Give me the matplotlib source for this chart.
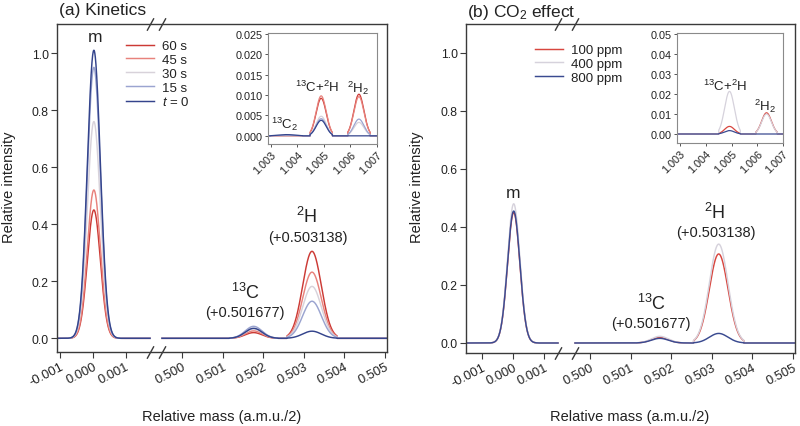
import numpy as np
import matplotlib
matplotlib.use("Agg")
import matplotlib.pyplot as plt
from matplotlib.path import Path
from matplotlib.ticker import FixedLocator, FixedFormatter

plt.rcParams['font.family'] = ['Liberation Sans', 'DejaVu Sans']
plt.rcParams['mathtext.fontset'] = 'custom'
plt.rcParams['mathtext.rm'] = 'Liberation Sans'
plt.rcParams['mathtext.it'] = 'Liberation Sans:italic'
plt.rcParams['mathtext.bf'] = 'Liberation Sans:bold'

# ---------------- data ----------------
# panel (a) kinetics
a_labels = ['60 s', '45 s', '30 s', '15 s', r'$t$ = 0']
a_colors = ['#cc3a35', '#e8827c', '#d8d2da', '#9ba4d0', '#34448c']
a_m = [0.45, 0.52, 0.76, 0.95, 1.01]
a_13C = [0.020, 0.026, 0.033, 0.042, 0.035]
a_2H = [0.305, 0.232, 0.182, 0.130, 0.025]
a_13C2 = [0.0, 0.0, 0.0, 0.0002, 0.0003]
a_13C2H = [0.0092, 0.0098, 0.0048, 0.0042, 0.0038]
a_2H2 = [0.0102, 0.0096, 0.0033, 0.0041, 0.0]

# panel (b) CO2 effect
b_labels = ['100 ppm', '400 ppm', '800 ppm']
b_colors = ['#d8463f', '#d6d2dc', '#3a4a90']
b_m = [0.45, 0.48, 0.455]
b_13C = [0.019, 0.023, 0.016]
b_2H = [0.307, 0.341, 0.033]
b_13C2H = [0.0038, 0.0213, 0.0017]
b_2H2 = [0.0106, 0.0100, 0.0]

# peak positions (relative mass) and widths: (sigma, half window)
a_pos = {'m': 0.00003, '13C': 0.50176, '2H': 0.50320,
         '13C2': 1.0036, '13C2H': 1.00490, '2H2': 1.00632}
b_pos = {'m': 0.00002, '13C': 0.50172, '2H': 0.50317,
         '13C2H': 1.00492, '2H2': 1.00636}
widths = {'m': (0.00020, 0.00080), '13C': (0.00021, 0.00060),
          '2H': (0.00023, 0.00062), '13C2': (0.00030, 0.00060),
          '13C2H': (0.00019, 0.00042), '2H2': (0.00019, 0.00042)}

x_ticks = [-0.001, 0.000, 0.001, 0.500, 0.501, 0.502, 0.503, 0.504, 0.505]
x_ticklabels = ['-0.001', '0.000', '0.001', '0.500', '0.501', '0.502',
                '0.503', '0.504', '0.505']
y_ticks = [0.0, 0.2, 0.4, 0.6, 0.8, 1.0]
ins_x_ticks = [1.003, 1.004, 1.005, 1.006, 1.007]
a_ins_y_ticks = [0.000, 0.005, 0.010, 0.015, 0.020, 0.025]
b_ins_y_ticks = [0.00, 0.01, 0.02, 0.03, 0.04, 0.05]


def peak(x, center, height, key):
    s, w = widths[key]
    y = height * np.exp(-0.5 * ((x - center) / s) ** 2)
    return np.where(np.abs(x - center) <= w, y, 0.0)


def make_scale(L0, L1, R0, R1, wl, wg, wr):
    def fwd(x):
        x = np.asarray(x, float)
        a = (x - L0) * (wl / (L1 - L0))
        b = wl + (x - L1) * (wg / (R0 - L1))
        c = wl + wg + (x - R0) * (wr / (R1 - R0))
        return np.where(x <= L1, a, np.where(x >= R0, c, b))

    def inv(u):
        u = np.asarray(u, float)
        a = L0 + u * (L1 - L0) / wl
        b = L1 + (u - wl) * (R0 - L1) / wg
        c = R0 + (u - wl - wg) * (R1 - R0) / wr
        return np.where(u <= wl, a, np.where(u >= wl + wg, c, b))
    return fwd, inv


W, H = 800, 427
fig = plt.figure(figsize=(W / 100, H / 100), dpi=100)


def px_axes(l, t, r, b):
    return fig.add_axes([l / W, 1 - b / H, (r - l) / W, (b - t) / H])


def ftext(x, y, s, **kw):
    fig.text(x / W, 1 - y / H, s, ha='center', va='center', **kw)


FRAME = '#3a3a3a'
slash = Path([(-0.55, -1.0), (0.55, 1.0)], [Path.MOVETO, Path.LINETO])


def main_panel(box, lims, pix, ylim, series, pos, labels, colors, leg_xy):
    ax = px_axes(*box)
    L0, L1, R0, R1 = lims
    fwd, inv = make_scale(L0, L1, R0, R1, *pix)
    ax.set_xscale('function', functions=(fwd, inv))
    ax.set_xlim(L0, R1)
    ax.set_ylim(*ylim)
    xl = np.linspace(L0, L1, 1500)
    xr = np.linspace(R0, R1, 3000)
    m_v, c_v, h_v = series
    for i in range(len(labels)):
        yl = peak(xl, pos['m'], m_v[i], 'm')
        yr = peak(xr, pos['13C'], c_v[i], '13C') + peak(xr, pos['2H'], h_v[i], '2H')
        ax.plot(xl, yl, color=colors[i], lw=1.05, label=labels[i])
        ax.plot(xr, yr, color=colors[i], lw=1.05)
    for sp in ax.spines.values():
        sp.set_color(FRAME)
        sp.set_linewidth(1.0)
    ax.xaxis.set_major_locator(FixedLocator(x_ticks))
    ax.xaxis.set_major_formatter(FixedFormatter(x_ticklabels))
    ax.xaxis.set_minor_locator(FixedLocator([]))
    ax.set_yticks(y_ticks)
    ax.set_yticklabels(['%.1f' % v for v in y_ticks])
    ax.tick_params(axis='both', direction='out', length=4, width=0.8,
                   color=FRAME, labelsize=8.8, pad=2, labelcolor='#222')
    for lab in ax.get_xticklabels():
        lab.set_rotation(27)
        lab.set_ha('right')
        lab.set_rotation_mode('anchor')
        lab.set_fontsize(9.3)
    # break marks
    ax.plot([L1, R0], [1, 1], transform=ax.get_xaxis_transform(), ls='none',
            marker=slash, ms=9, mew=1.0, color=FRAME, clip_on=False)
    ax.plot([L1, R0], [0, 0], transform=ax.get_xaxis_transform(), ls='none',
            marker=slash, ms=9, mew=1.0, color=FRAME, clip_on=False)
    leg = ax.legend(loc='upper left', bbox_to_anchor=leg_xy, frameon=False,
                    fontsize=9.5, handlelength=2.1, handletextpad=0.6,
                    labelspacing=0.12, borderpad=0, borderaxespad=0)
    for t in leg.get_texts():
        t.set_color('#222')
    return ax


def inset(box, xlim, ylim, yt, yfmt, series, keys, pos, colors):
    ax = px_axes(*box)
    x = np.linspace(xlim[0], xlim[1], 4000)
    for i in range(len(colors)):
        y = np.zeros_like(x)
        for vals, k in zip(series, keys):
            y = y + peak(x, pos[k], vals[i], k)
        ax.plot(x, y, color=colors[i], lw=0.9)
    ax.set_xlim(*xlim)
    ax.set_ylim(*ylim)
    for sp in ax.spines.values():
        sp.set_color('#8a8a8a')
        sp.set_linewidth(0.8)
    ax.set_xticks(ins_x_ticks)
    ax.set_xticklabels(['%.3f' % v for v in ins_x_ticks])
    ax.set_yticks(yt)
    ax.set_yticklabels([yfmt % v for v in yt])
    ax.tick_params(axis='both', direction='out', length=2.5, width=0.7,
                   color='#555', labelsize=7.8, pad=1.5, labelcolor='#222')
    for lab in ax.get_xticklabels():
        lab.set_rotation(45)
        lab.set_ha('right')
        lab.set_rotation_mode('anchor')
    return ax


# ---------- panel (a) ----------
main_panel((57, 25, 387, 353), (-0.0011, 0.00175, 0.4995, 0.50505), (93, 12, 225),
           (-0.048, 1.102), (a_m, a_13C, a_2H), a_pos, a_labels, a_colors,
           ((126 - 57) / 330, (353 - 41) / 328))
inset((268, 34, 377, 145), (1.0029, 1.007), (-0.002, 0.0252), a_ins_y_ticks, '%.3f',
      (a_13C2, a_13C2H, a_2H2), ['13C2', '13C2H', '2H2'], a_pos, a_colors)

# ---------- panel (b) ----------
main_panel((466, 25, 795, 354), (-0.00152, 0.00145, 0.49963, 0.50505), (92, 17, 220),
           (-0.0345, 1.100), (b_m, b_13C, b_2H), b_pos, b_labels, b_colors,
           ((535 - 466) / 329, (354 - 45) / 329))
inset((677, 34, 783, 144), (1.00288, 1.007), (-0.0045, 0.0505), b_ins_y_ticks, '%.2f',
      (b_13C2H, b_2H2), ['13C2H', '2H2'], b_pos, b_colors)

# ---------- texts ----------
fig.text(59 / W, 1 - 11 / H, '(a) Kinetics', ha='left', va='center', fontsize=12.5, color='#222')
fig.text(467 / W, 1 - 12 / H, '(b) CO$_2$ effect', ha='left', va='center', fontsize=12.5, color='#222')

for xc in (222, 630):
    ftext(xc, 417, 'Relative mass (a.m.u./2)', fontsize=10.5, color='#222')
for xc in (9, 417):
    ftext(xc, 187, 'Relative intensity', fontsize=10.5, rotation=90, color='#222')

# panel (a) annotations
ftext(95, 38, 'm', fontsize=12.5, color='#222')
ftext(307, 217, r'$^{2}$H', fontsize=13, color='#222')
ftext(308, 238, '(+0.503138)', fontsize=10.5, color='#222')
ftext(245, 293, r'$^{13}$C', fontsize=13, color='#222')
ftext(245, 313, '(+0.501677)', fontsize=10.5, color='#222')
ftext(317, 87, r'$^{13}$C+$^{2}$H', fontsize=9.5, color='#222')
ftext(358, 88, r'$^{2}$H$_{2}$', fontsize=9.5, color='#222')
ftext(285, 124, r'$^{13}$C$_{2}$', fontsize=9.5, color='#222')

# panel (b) annotations
ftext(513, 194, 'm', fontsize=12.5, color='#222')
ftext(715, 213, r'$^{2}$H', fontsize=13, color='#222')
ftext(716, 233, '(+0.503138)', fontsize=10.5, color='#222')
ftext(651, 304, r'$^{13}$C', fontsize=13, color='#222')
ftext(651, 324, '(+0.501677)', fontsize=10.5, color='#222')
ftext(725, 86, r'$^{13}$C+$^{2}$H', fontsize=9.5, color='#222')
ftext(765, 106, r'$^{2}$H$_{2}$', fontsize=9.5, color='#222')

fig.savefig('out.png', dpi=100)
